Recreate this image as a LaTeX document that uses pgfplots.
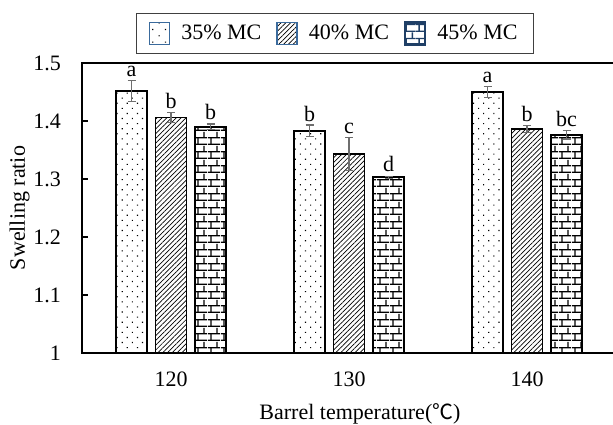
\documentclass[border=0pt]{standalone}
\usepackage{pgfplots}
\pgfplotsset{compat=1.18}
\usepackage{pgfplotstable}
\usetikzlibrary{patterns,patterns.meta}
\usepackage{fontspec}
\setmainfont{Liberation Serif}
\newfontfamily\cjk{Noto Sans CJK SC}[Scale=0.95]
\definecolor{legblue}{HTML}{3A6A9C}
\definecolor{legnavy}{HTML}{1F3F66}
\definecolor{errgray}{HTML}{6E6E6E}
\tikzdeclarepattern{
  name=mybricks,
  type=uncolored,
  bottom left={(0pt,0pt)},
  top right={(6.5pt,7pt)},
  tile size={(6.5pt,7pt)},
  code={
    \draw[line width=0.7pt] (0pt,0.35pt) -- (6.5pt,0.35pt);
    \draw[line width=0.7pt] (0pt,3.85pt) -- (6.5pt,3.85pt);
    \draw[line width=0.7pt] (1.6pt,0.35pt) -- (1.6pt,3.85pt);
    \draw[line width=0.7pt] (4.85pt,3.85pt) -- (4.85pt,7pt);
  }
}
\pgfplotstableread{
x y err lab
0 1.452 0.018 a
1 1.383 0.010 b
2 1.450 0.0095 a
}\tA
\pgfplotstableread{
x y err lab
0 1.406 0.008 b
1 1.343 0.028 c
2 1.386 0.006 b
}\tB
\pgfplotstableread{
x y err lab
0 1.390 0.005 b
1 1.303 0.002 d
2 1.376 0.007 bc
}\tC
\begin{document}
\begin{tikzpicture}[font=\fontsize{11}{13}\selectfont]
\begin{axis}[
  at={(41pt,35.5pt)}, anchor=south west,
  scale only axis, width=267pt, height=145pt,
  xmin=-0.5, xmax=2.5, ymin=1, ymax=1.5,
  ybar=4.25pt, bar width=15.5pt,
  xtick={0,1,2}, xticklabels={120,130,140},
  ytick={1,1.1,1.2,1.3,1.4,1.5},
  yticklabels={1,1.1,1.2,1.3,1.4,1.5},
  x tick style={draw=none},
  ytick pos=left, tick align=inside, major tick length=3pt,
  y tick style={line width=0.6pt, black},
  axis line style={line width=0.75pt},
  xticklabel style={yshift=-6pt},
  yticklabel style={xshift=-7pt},
  /pgf/number format/assume math mode=true,
  xlabel={Barrel temperature({\cjk ℃})},
  xlabel style={at={(0.5,0)}, anchor=north, yshift=-21.5pt, xshift=5.5pt},
  ylabel={Swelling ratio},
  ylabel style={yshift=-5pt},
  legend columns=3,
  legend cell align=left,
  legend style={at={(0.474,1.172)}, anchor=north, draw=darkgray, line width=0.6pt,
    inner xsep=6pt, inner ysep=3.5pt,
    /tikz/every odd column/.append style={column sep=3.5pt},
    /tikz/every even column/.append style={column sep=5.5pt}},
  point meta=explicit symbolic,
  nodes near coords,
  visualization depends on={\thisrow{err} \as \myerr},
  nodes near coords style={anchor=south, inner sep=1.5pt, yshift=\myerr*290pt, black},
  error bars/y dir=both, error bars/y explicit,
  error bars/error mark=-,
  error bars/error bar style={line width=0.6pt, draw=errgray},
  error bars/error mark options={rotate=90, draw=errgray, mark size=2pt, line width=0.6pt},
]
\addplot[draw=black, line width=0.7pt, fill=white,
  pattern={Dots[distance=3.6pt, angle=45, radius=0.4pt]},
  legend image code/.code={\draw[fill=white, pattern={Dots[distance=4.5pt, angle=45, radius=0.4pt]}, draw=legblue, line width=0.8pt] (0.5pt,-5.5pt) rectangle (10.5pt,5.5pt);}]
  table[x=x, y=y, y error=err, meta=lab] {\tA};
\addlegendentry{35\% MC}
\addplot[draw=black, line width=0.7pt,
  pattern={Lines[distance=1.7pt, angle=45, line width=0.35pt]},
  legend image code/.code={\draw[pattern={Lines[distance=1.7pt, angle=45, line width=0.35pt]}, draw=legblue, line width=0.8pt] (0.5pt,-5.5pt) rectangle (10.5pt,5.5pt);}]
  table[x=x, y=y, y error=err, meta=lab] {\tB};
\addlegendentry{40\% MC}
\addplot[draw=black, line width=1pt, pattern=mybricks,
  legend image code/.code={\draw[pattern=mybricks, pattern color=legnavy, draw=legnavy, line width=1.2pt] (0.5pt,-5.5pt) rectangle (10.5pt,5.5pt);}]
  table[x=x, y=y, y error=err, meta=lab] {\tC};
\addlegendentry{45\% MC}
\end{axis}
\pgfresetboundingbox
\useasboundingbox (0,0) rectangle (306.5pt,212pt);
\end{tikzpicture}
\end{document}
